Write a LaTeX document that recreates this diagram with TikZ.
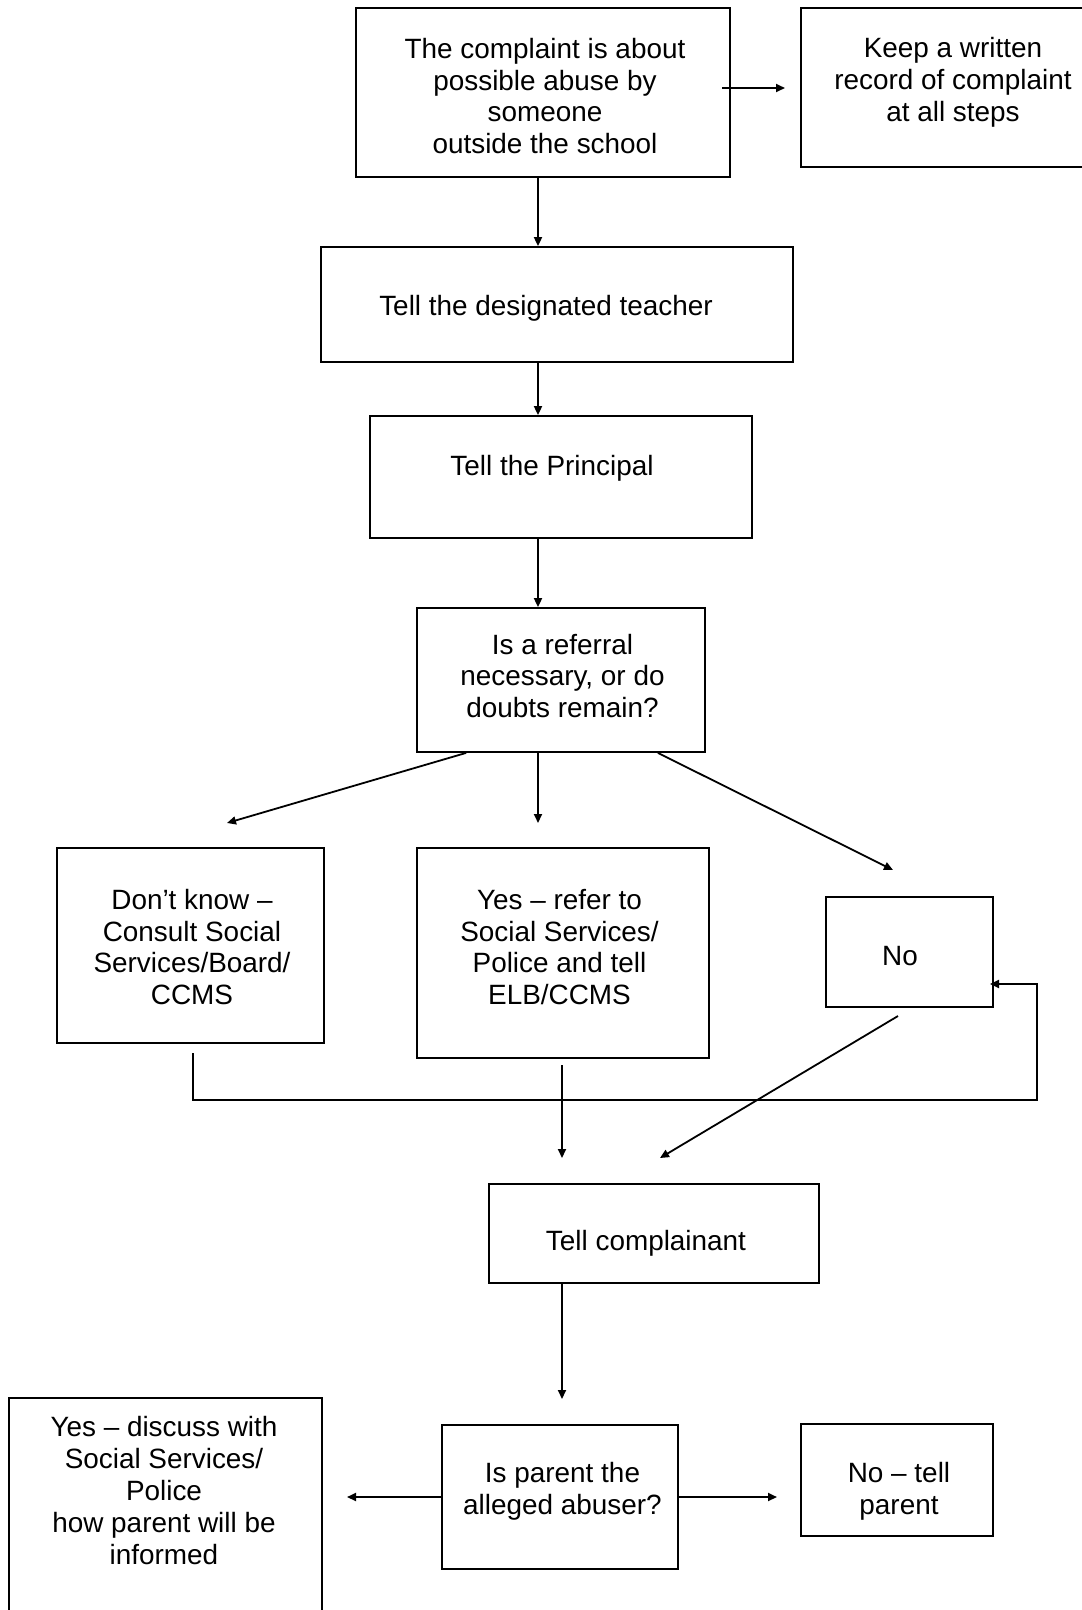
\documentclass[tikz,border=0pt]{standalone}
\usepackage{fontspec}
\setmainfont{Liberation Sans}
\usetikzlibrary{arrows.meta}

\begin{document}
\begin{tikzpicture}[x=1pt, y=-1pt,
        box/.style={draw, line width=1.8pt, inner sep=0pt},
        words/.style={align=center, inner sep=0pt, font=\fontsize{27.9pt}{31.8pt}\selectfont},
        link/.style={-{Triangle[length=9pt, width=8pt]}, line width=1.8pt}
    ]
    \useasboundingbox (0,0) rectangle (1082,1610);

    % boxes
    \node (complaint) [box, minimum width=374pt, minimum height=169pt] at (543,92.5) {};
    \node (keep) [box, minimum width=304pt, minimum height=159pt] at (953,87.5) {};
    \node (teacher) [box, minimum width=472pt, minimum height=115pt] at (557,304.5) {};
    \node (principal) [box, minimum width=382pt, minimum height=122pt] at (561,477) {};
    \node (referral) [box, minimum width=288pt, minimum height=144pt] at (561,680) {};
    \node (dontknow) [box, minimum width=267pt, minimum height=195pt] at (190.5,945.5) {};
    \node (yes) [box, minimum width=292pt, minimum height=210pt] at (563,953) {};
    \node (no) [box, minimum width=167pt, minimum height=110pt] at (909.5,952) {};
    \node (complainant) [box, minimum width=330pt, minimum height=99pt] at (654,1233.5) {};
    \node (parent) [box, minimum width=236pt, minimum height=144pt] at (560,1497) {};
    \node (discuss) [box, minimum width=313pt, minimum height=227pt] at (165.5,1511.5) {};
    \node (tellparent) [box, minimum width=192pt, minimum height=112pt] at (897,1480) {};

    % texts
    \node (complaint-t) [words] at (545,96) {The complaint is about\\possible abuse by\\someone\\outside the school};
    \node (keep-t) [words] at (953,82) {Keep a written\\record of complaint\\at all steps};
    \node (teacher-t) [words] at (546,308) {Tell the designated teacher};
    \node (principal-t) [words] at (552,468) {Tell the Principal};
    \node (referral-t) [words] at (562.5,676) {Is a referral\\necessary, or do\\doubts remain?};
    \node (dontknow-t) [words] at (192,947) {Don’t know –\\Consult Social\\Services/Board/\\CCMS};
    \node (yes-t) [words] at (559.5,947) {Yes – refer to\\Social Services/\\Police and tell\\ELB/CCMS};
    \node (no-t) [words] at (900,956) {No};
    \node (complainant-t) [words] at (646,1243) {Tell complainant};
    \node (parent-t) [words] at (562.5,1491) {Is parent the\\alleged abuser?};
    \node (discuss-t) [words] at (164,1490.5) {Yes – discuss with\\Social Services/\\Police\\how parent will be\\informed};
    \node (tellparent-t) [words] at (899,1491) {No – tell\\parent};

    % free ends
    \coordinate (axis) at (538,0);
    \coordinate (axis2) at (562,0);
    \coordinate (rec-s) at (722,88);
    \coordinate (rec-e) at (785,88);
    \coordinate (dk-in) at (227,823);
    \coordinate (yes-in) at (538,823);
    \coordinate (no-in) at (893,870);
    \coordinate (dk-out) at (193,1053);
    \coordinate (loop-c) at (1037,1100);
    \coordinate (no-back) at (990,984);
    \coordinate (yes-out) at (562,1065);
    \coordinate (comp-in) at (562,1158);
    \coordinate (no-out) at (898,1016);
    \coordinate (comp-in2) at (660,1158);
    \coordinate (parent-in) at (562,1399);
    \coordinate (left-in) at (347,1497);
    \coordinate (right-in) at (777,1497);

    % connectors
    \draw [link] (rec-s) -- (rec-e);
    \draw [link] (complaint.south -| axis) -- (teacher.north -| axis);
    \draw [link] (teacher.south -| axis) -- (principal.north -| axis);
    \draw [link] (principal.south -| axis) -- (referral.north -| axis);
    \draw [link] ([xshift=50pt]referral.south west) -- (dk-in);
    \draw [link] (referral.south -| axis) -- (yes-in);
    \draw [link] ([xshift=-48pt]referral.south east) -- (no-in);
    \draw [link] (dk-out) |- (loop-c) |- (no-back);
    \draw [link] (yes-out) -- (comp-in);
    \draw [link] (no-out) -- (comp-in2);
    \draw [link] (complainant.south -| axis2) -- (parent-in);
    \draw [link] (parent.west) -- (left-in);
    \draw [link] (parent.east) -- (right-in);
\end{tikzpicture}
\end{document}
